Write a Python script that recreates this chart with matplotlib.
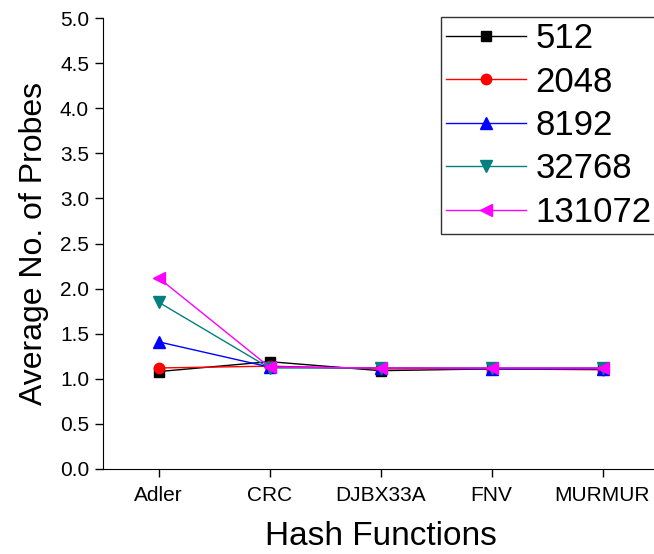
import numpy as np
import matplotlib as mpl
mpl.use('Agg')
import matplotlib.pyplot as plt

plt.rcParams['font.family'] = ['Liberation Sans', 'DejaVu Sans']

# ===============================================================================================
hash_funcs = ['Adler', 'CRC', 'DJBX33A', 'FNV', 'MURMUR']
sizes = ['512', '2048', '8192', '32768', '131072']

probes_512 = [1.08, 1.19, 1.09, 1.11, 1.11]
probes_2048 = [1.12, 1.14, 1.11, 1.11, 1.10]
probes_8192 = [1.41, 1.13, 1.12, 1.11, 1.11]
probes_32768 = [1.85, 1.12, 1.12, 1.12, 1.12]
probes_131072 = [2.12, 1.13, 1.12, 1.12, 1.12]

series = [probes_512, probes_2048, probes_8192, probes_32768, probes_131072]
colors = ['black', 'red', 'blue', '#008080', 'magenta']
markers = ['s', 'o', '^', 'v', '<']
msizes = [6.5, 7.5, 8, 8, 8]

fig = plt.figure(figsize=(6.54, 5.54), dpi=100)
ax = fig.add_axes([103 / 654, 85 / 554, 555 / 654, 451 / 554])

x = np.arange(len(hash_funcs))
for vals, c, m, ms, lab in zip(series, colors, markers, msizes, sizes):
    ax.plot(x, vals, color=c, marker=m, markersize=ms, linewidth=1, label=lab)

ax.set_xlim(-0.5, 4.5)
ax.set_ylim(0, 5.0)
ax.set_yticks(np.arange(0, 5.01, 0.5))
ax.set_xticks(x)
ax.set_xticklabels(hash_funcs)
ax.tick_params(direction='out', length=6, width=1, labelsize=15, pad=4)
ax.tick_params(axis='x', pad=6)
ax.spines['top'].set_visible(False)
ax.spines['right'].set_visible(False)
ax.set_xlabel('Hash Functions', fontsize=24, labelpad=12)
ax.set_ylabel('Average No. of Probes', fontsize=23, labelpad=8)

leg = ax.legend(loc='upper right', fontsize=25, frameon=True, fancybox=False,
                edgecolor='black', handlelength=2.28, handletextpad=0.29,
                labelspacing=0.3, borderpad=0.15, borderaxespad=0)
leg.set_bbox_to_anchor((657 / 654, 1 - 17 / 554), transform=fig.transFigure)
leg.get_frame().set_linewidth(1)

fig.savefig('out.png', dpi=100)
